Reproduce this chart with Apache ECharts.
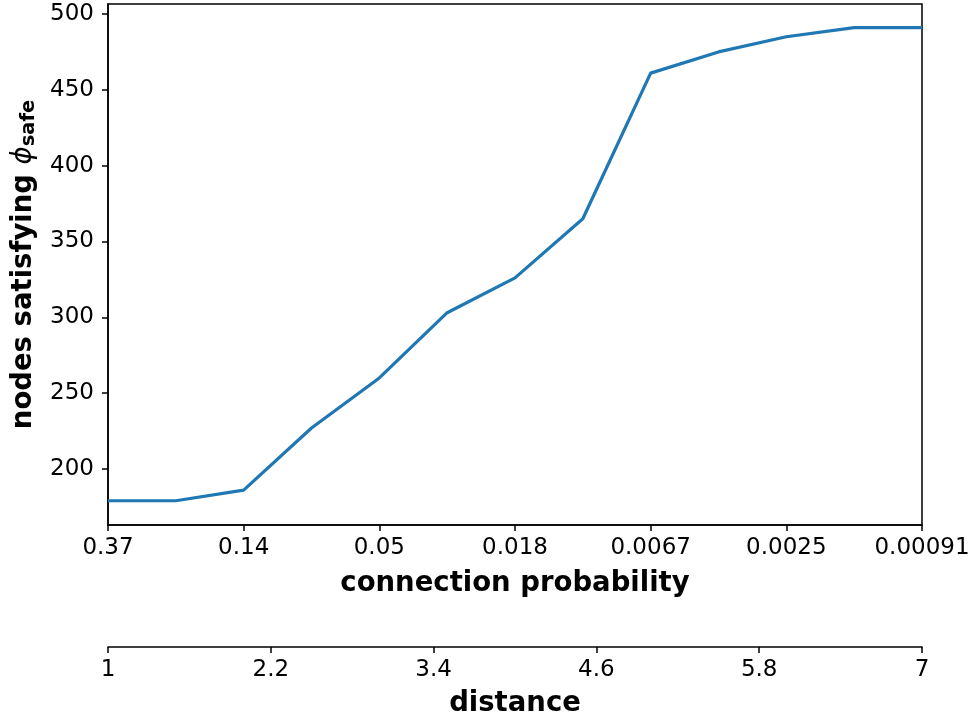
<!DOCTYPE html>
<html>
<head>
<meta charset="utf-8">
<script src="https://cdn.jsdelivr.net/npm/echarts@6/dist/echarts.min.js"></script>
<style>
	html, body { margin: 0; padding: 0; background: #fff; }
	#chart { width: 973px; height: 723px; }
</style>
</head>
<body>
<div id="chart"></div>
<script>
// distance on the x axis, one value per sample
const distance = [1, 1.5, 2, 2.5, 3, 3.5, 4, 4.5, 5, 5.5, 6, 6.5, 7]
const nodesSafe = [179, 179, 186, 227, 260, 303, 326, 365, 461, 475, 485, 491, 491]

// connection probability axis (ticks at integer distances)
const probTicks = [1, 2, 3, 4, 5, 6, 7]
const probLabels = ['0.37', '0.14', '0.05', '0.018', '0.0067', '0.0025', '0.00091']
// distance axis
const distTicks = [1, 2.2, 3.4, 4.6, 5.8, 7]
const yTicks = [200, 250, 300, 350, 400, 450, 500]

const chart = (function() {
	const font = 'DejaVu Sans'
	const axisLineStyle = { color: '#000', width: 1.5 }

	const baseX = function() {
		return {
			type: 'value',
			position: 'bottom',
			min: 1,
			max: 7,
			splitLine: { show: false },
			axisLine: { show: true, lineStyle: axisLineStyle },
			axisTick: { show: true, inside: false, length: 6, lineStyle: axisLineStyle },
			axisLabel: { color: '#000', fontFamily: font, fontSize: 23, margin: 12 },
			nameLocation: 'middle',
			nameTextStyle: { color: '#000', fontFamily: font, fontWeight: 'bold', fontSize: 27.5 }
		}
	}

	const topAxis = baseX()
	topAxis.name = 'connection probability'
	topAxis.nameGap = 45
	topAxis.axisTick.customValues = probTicks
	topAxis.axisLabel.customValues = probTicks
	topAxis.axisLabel.formatter = function(v) {
		return probLabels[probTicks.indexOf(v)]
	}

	const distAxis = baseX()
	distAxis.name = 'distance'
	distAxis.nameGap = 43
	distAxis.offset = 122
	distAxis.axisTick.customValues = distTicks
	distAxis.axisLabel.customValues = distTicks

	const option = {
		backgroundColor: '#fff',
		animation: false,
		grid: {
			left: 108,
			right: 51,
			top: 4,
			bottom: 198,
			show: true,
			borderColor: '#000',
			borderWidth: 1.5,
			backgroundColor: 'transparent'
		},
		xAxis: [topAxis, distAxis],
		yAxis: {
			type: 'value',
			min: 163,
			max: 506.6,
			splitLine: { show: false },
			axisLine: { show: true, lineStyle: axisLineStyle },
			axisTick: { show: true, length: 6, lineStyle: axisLineStyle, customValues: yTicks },
			axisLabel: { color: '#000', fontFamily: font, fontSize: 23, margin: 14, customValues: yTicks },
			name: '{b|nodes satisfying }{phi|ϕ}{sub|safe}',
			nameLocation: 'middle',
			nameRotate: 90,
			nameGap: 67,
			nameTextStyle: {
				color: '#000',
				rich: {
					b: { fontFamily: font, fontWeight: 'bold', fontSize: 27.5, color: '#000' },
					phi: { fontFamily: font, fontStyle: 'italic', fontSize: 27.5, color: '#000' },
					sub: { fontFamily: font, fontWeight: 'bold', fontSize: 19.5, color: '#000', padding: [10, 0, 0, 0] }
				}
			}
		},
		series: [{
			type: 'line',
			xAxisIndex: 0,
			data: distance.map(function(d, i) { return [d, nodesSafe[i]] }),
			showSymbol: false,
			lineStyle: { color: '#1f77b4', width: 3.2 },
			clip: false
		}]
	}

	const myChart = echarts.init(document.getElementById('chart'))
	myChart.setOption(option)
	return myChart
})()
</script>
</body>
</html>
